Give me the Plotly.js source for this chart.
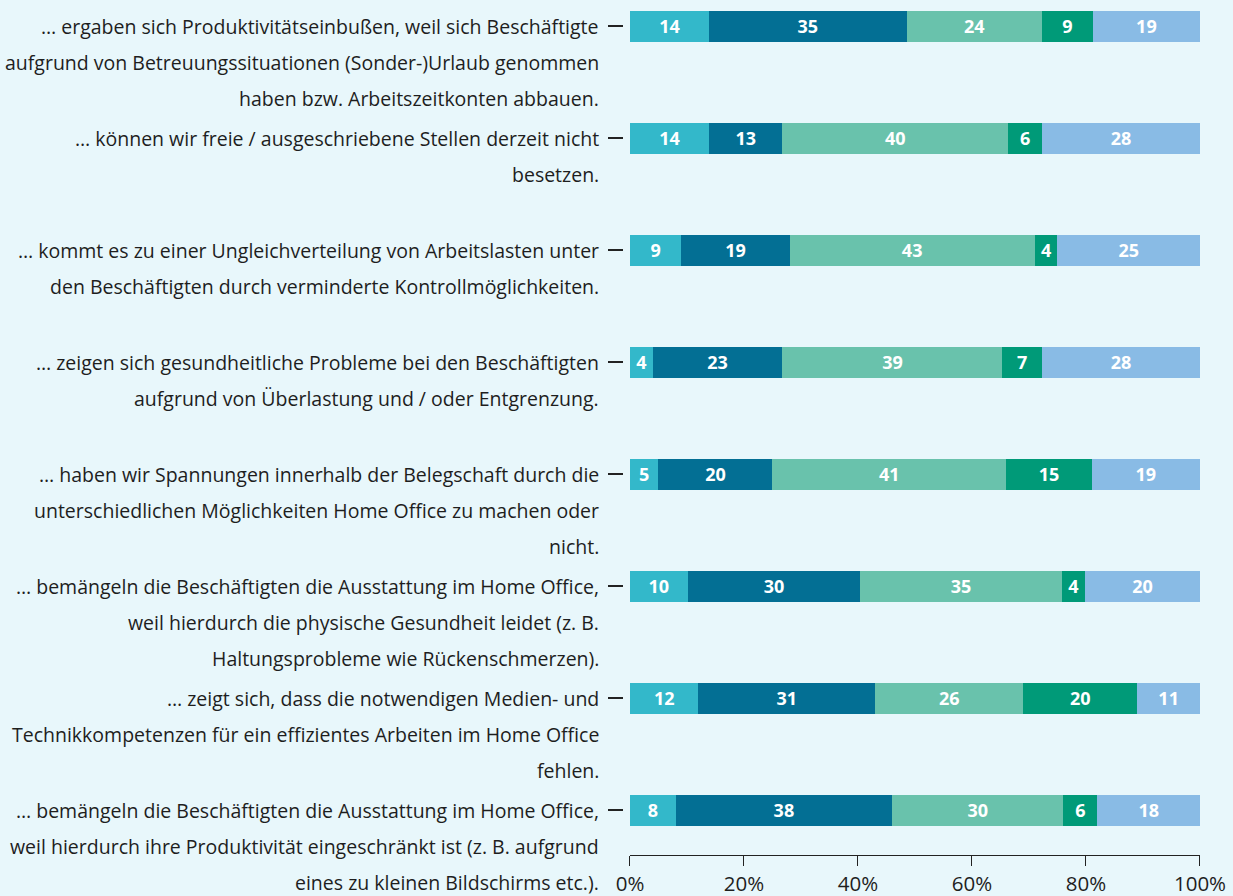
<!DOCTYPE html>
<html>
<head>
<meta charset="utf-8">
<script src="https://cdn.plot.ly/plotly-3.0.1.min.js"></script>
<style>html,body{margin:0;padding:0;background:#e8f7fb;}#chart{width:1233px;height:896px;}</style>
</head>
<body>
<div id="chart"></div>
<script>
// Category labels (lines separated by "\n")
const categories = [
  "… ergaben sich Produktivitätseinbußen, weil sich Beschäftigte\naufgrund von Betreuungssituationen (Sonder-)Urlaub genommen\nhaben bzw. Arbeitszeitkonten abbauen.",
  "… können wir freie / ausgeschriebene Stellen derzeit nicht\nbesetzen.",
  "… kommt es zu einer Ungleichverteilung von Arbeitslasten unter\nden Beschäftigten durch verminderte Kontrollmöglichkeiten.",
  "… zeigen sich gesundheitliche Probleme bei den Beschäftigten\naufgrund von Überlastung und / oder Entgrenzung.",
  "… haben wir Spannungen innerhalb der Belegschaft durch die\nunterschiedlichen Möglichkeiten Home Office zu machen oder\nnicht.",
  "… bemängeln die Beschäftigten die Ausstattung im Home Office,\nweil hierdurch die physische Gesundheit leidet (z. B.\nHaltungsprobleme wie Rückenschmerzen).",
  "… zeigt sich, dass die notwendigen Medien- und\nTechnikkompetenzen für ein effizientes Arbeiten im Home Office\nfehlen.",
  "… bemängeln die Beschäftigten die Ausstattung im Home Office,\nweil hierdurch ihre Produktivität eingeschränkt ist (z. B. aufgrund\neines zu kleinen Bildschirms etc.)."
];

// Series values (percent)
const series1 = [14, 14, 9, 4, 5, 10, 12, 8];
const series2 = [35, 13, 19, 23, 20, 30, 31, 38];
const series3 = [24, 40, 43, 39, 41, 35, 26, 30];
const series4 = [9, 6, 4, 7, 15, 4, 20, 6];
const series5 = [19, 28, 25, 28, 19, 20, 11, 18];
const seriesNames = ["Antwort 1", "Antwort 2", "Antwort 3", "Antwort 4", "Antwort 5"];

// X-axis ticks
const xTickVals = [0, 20, 40, 60, 80, 100];
const xTickText = ["0%", "20%", "40%", "60%", "80%", "100%"];

const colors = ["#33b8ca", "#036f94", "#69c2ac", "#009a78", "#89bbe5"];
const allSeries = [series1, series2, series3, series4, series5];

const traces = allSeries.map((vals, i) => ({
  type: "bar",
  orientation: "h",
  name: seriesNames[i],
  y: categories,
  x: vals,
  text: vals.map(String),
  texttemplate: "%{text}",
  textposition: "inside",
  insidetextanchor: "middle",
  textangle: 0,
  constraintext: "none",
  textfont: {family: "Open Sans, sans-serif", size: 18, color: "#ffffff", weight: 700},
  marker: {color: colors[i], line: {width: 0}},
  hoverinfo: "name+x",
  showlegend: false
}));

const annotations = [];
categories.forEach(cat => {
  cat.split("\n").forEach((line, k) => {
    annotations.push({
      xref: "paper", yref: "y",
      x: 0, y: cat,
      xanchor: "right", yanchor: "middle",
      xshift: -22, yshift: -36 * k,
      text: line,
      showarrow: false,
      align: "right",
      font: {family: "Open Sans, sans-serif", size: 19.5, color: "#1e1e1e"}
    });
  });
});

const layout = {
  width: 1233, height: 896,
  barmode: "stack",
  barnorm: "percent",
  bargap: 0.723,
  paper_bgcolor: "#e8f7fb",
  plot_bgcolor: "#e8f7fb",
  margin: {l: 623, r: 33, t: 10, b: 41},
  xaxis: {
    domain: [0.01213, 1],
    range: [0, 100],
    tickvals: xTickVals,
    ticktext: xTickText,
    showgrid: false,
    zeroline: false,
    showline: true,
    linecolor: "#222222",
    linewidth: 1,
    ticks: "outside",
    ticklen: 10,
    tickwidth: 1,
    tickcolor: "#222222",
    tickfont: {family: "Open Sans, sans-serif", size: 20.5, color: "#1e1e1e"},
    fixedrange: true
  },
  yaxis: {
    type: "category",
    categoryorder: "array",
    categoryarray: categories,
    range: [7.4, -0.143],
    anchor: "free",
    position: 0,
    showticklabels: false,
    showgrid: false,
    zeroline: false,
    showline: false,
    ticks: "outside",
    ticklen: 15,
    tickwidth: 1.5,
    tickcolor: "#222222",
    fixedrange: true
  },
  annotations: annotations,
  font: {family: "Open Sans, sans-serif"}
};

Plotly.newPlot("chart", traces, layout, {displayModeBar: false, staticPlot: true});
</script>
</body>
</html>
